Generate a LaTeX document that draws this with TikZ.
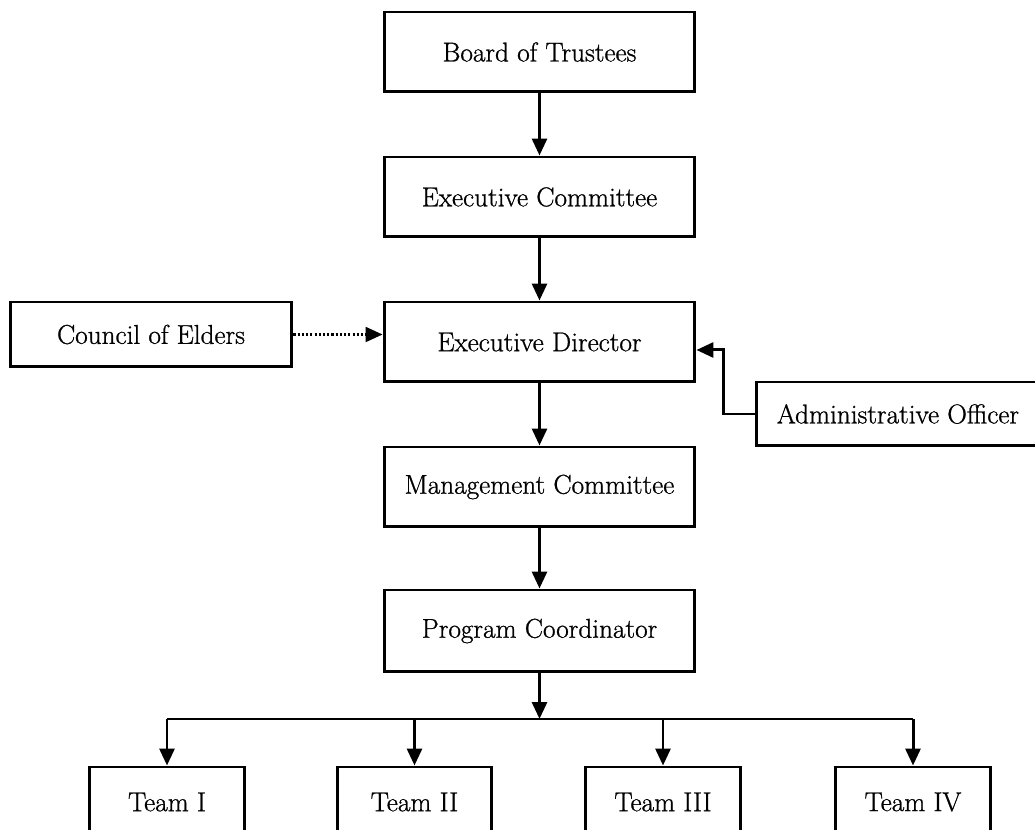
\documentclass[tikz,border=0pt]{standalone}
\usepackage{fontspec}
\newfontfamily\boxfont{Latin Modern Roman}[FakeBold=0.9]
\usepackage{tikz}
\usetikzlibrary{arrows.meta}

\begin{document}
\begin{tikzpicture}[x=0.02cm,y=-0.02cm,
  box/.style={draw, line width=1.7pt, minimum width=6.22cm, minimum height=1.6cm,
    inner sep=0pt, font={\boxfont\fontsize{15.5}{18}\selectfont}},
  teambox/.style={box, minimum width=3.1cm, minimum height=1.4cm},
  arr/.style={line width=1.7pt, -{Triangle[length=0.34cm,width=0.3cm]}}]

\clip (0,0) rectangle (1035,830);

% Main column
\node[box] (board) at (539.5,52) {Board of Trustees};
\node[box] (excom) at (539.5,197) {Executive Committee};
\node[box] (exdir) at (539.5,342) {Executive Director};
\node[box] (mgmt) at (539.5,487) {Management Committee};
\node[box, minimum height=1.64cm] (progco) at (539.5,631) {Program Coordinator};

% Side boxes
\node[box, minimum width=5.64cm, minimum height=1.3cm] (elders) at (151,334.5) {Council of Elders};
\node[box, minimum width=5.68cm, minimum height=1.28cm] (admin) at (898,414) {Administrative Officer};

% Teams (cut off at the bottom)
\node[teambox] (team1) at (167,802) {Team I};
\node[teambox] (team2) at (414.5,802) {Team II};
\node[teambox] (team3) at (663,802) {Team III};
\node[teambox] (team4) at (913,802) {Team IV};

% Arrows down the column
\draw[arr] (board) -- (excom);
\draw[arr] (excom) -- (exdir);
\draw[arr] (exdir) -- (mgmt);
\draw[arr] (mgmt) -- (progco);

% Side links
\draw[arr, line width=1.2pt, dash pattern=on 1.2pt off 1.2pt] (elders.east) -- (elders.east -| exdir.west);
\draw[arr] (admin.west) -- ++(-31,0) |- ([yshift=-0.16cm]exdir.east);

% Bus to the teams
\coordinate (bus) at (539.5,719);
\draw[arr] (progco) -- (bus);
\draw[line width=1.7pt] (bus -| team1) -- (bus -| team4);
\foreach \tm in {team1,team2,team3,team4}
  \draw[arr] (bus -| \tm) -- (\tm);

\end{tikzpicture}
\end{document}
